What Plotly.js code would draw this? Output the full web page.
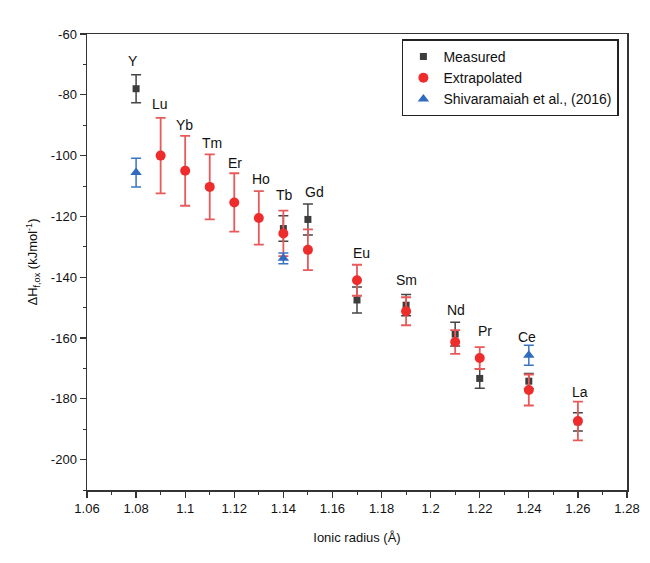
<!DOCTYPE html>
<html>
<head>
<meta charset="utf-8">
<script src="https://cdn.plot.ly/plotly-3.0.1.min.js"></script>
<style>html,body{margin:0;padding:0;background:#fff;}#chart{width:650px;height:563px;}</style>
</head>
<body>
<div id="chart"></div>
<script>
// Measured
var measX = [1.08, 1.14, 1.15, 1.17, 1.19, 1.21, 1.22, 1.24, 1.26];
var measY = [-78, -124, -121, -147.5, -149.2, -158.7, -173.3, -174.2, -187.6];
var measErr = [4.6, 4.2, 5.1, 4.3, 3.5, 3.9, 3.2, 2.5, 3.0];
// Extrapolated
var extX = [1.09, 1.10, 1.11, 1.12, 1.13, 1.14, 1.15, 1.17, 1.19, 1.21, 1.22, 1.24, 1.26];
var extY = [-100, -105, -110.3, -115.4, -120.5, -125.6, -131, -141, -151.2, -161.3, -166.6, -177.1, -187.3];
var extErr = [12.4, 11.5, 10.7, 9.6, 8.8, 7.5, 6.7, 5.1, 4.6, 3.9, 3.6, 5.1, 6.4];
// Shivaramaiah et al., (2016)
var shiX = [1.08, 1.14, 1.24];
var shiY = [-105.6, -133.8, -165.7];
var shiErr = [4.7, 1.8, 3.3];
// Element labels
var labText = ["Y", "Lu", "Yb", "Tm", "Er", "Ho", "Tb", "Gd", "Eu", "Sm", "Nd", "Pr", "Ce", "La"];
var labX = [1.0787, 1.0897, 1.0999, 1.111, 1.1203, 1.1309, 1.1403, 1.1525, 1.172, 1.19, 1.2103, 1.222, 1.2393, 1.2609];
var labY = [-69, -83, -90, -95.8, -102.4, -107.8, -113, -112.1, -132.2, -140.8, -150.7, -157.8, -159.7, -177.8];
// Axis ticks
var xTicks = [1.06, 1.08, 1.10, 1.12, 1.14, 1.16, 1.18, 1.20, 1.22, 1.24, 1.26, 1.28];
var xTickText = ["1.06", "1.08", "1.1", "1.12", "1.14", "1.16", "1.18", "1.2", "1.22", "1.24", "1.26", "1.28"];
var yTicks = [-200, -180, -160, -140, -120, -100, -80, -60];
var yTickText = ["-200", "-180", "-160", "-140", "-120", "-100", "-80", "-60"];

var font = "Liberation Sans, Arial, sans-serif";

var traces = [
  {
    x: measX, y: measY, name: "Measured", type: "scatter", mode: "markers",
    marker: {symbol: "square", size: 7, color: "#3d3d3d"},
    error_y: {type: "data", array: measErr, visible: true, color: "#454545", thickness: 1.5, width: 5}
  },
  {
    x: extX, y: extY, name: "Extrapolated", type: "scatter", mode: "markers",
    marker: {symbol: "circle", size: 10, color: "#ee2c2c"},
    error_y: {type: "data", array: extErr, visible: true, color: "#e85a5a", thickness: 1.8, width: 5}
  },
  {
    x: shiX, y: shiY, name: "Shivaramaiah et al., (2016)", type: "scatter", mode: "markers",
    marker: {symbol: "triangle-up", size: 10, color: "#2f6cc0"},
    error_y: {type: "data", array: shiErr, visible: true, color: "#3a74c4", thickness: 1.5, width: 5}
  }
];

var annotations = labText.map(function (t, i) {
  return {x: labX[i], y: labY[i], xref: "x", yref: "y", text: t, showarrow: false,
    font: {family: font, size: 14, color: "#111"}};
});

var layout = {
  width: 650, height: 563,
  margin: {l: 87, r: 23, t: 34, b: 73},
  paper_bgcolor: "#fff", plot_bgcolor: "#fff",
  font: {family: font, size: 13, color: "#111"},
  showlegend: true,
  legend: {x: 0.985, y: 0.988, xanchor: "right", yanchor: "top",
    bgcolor: "#fff", bordercolor: "#222", borderwidth: 1.5,
    font: {family: font, size: 14, color: "#111"}, tracegroupgap: 0, itemwidth: 30},
  xaxis: {
    range: [1.06, 1.28], tickmode: "array", tickvals: xTicks, ticktext: xTickText,
    ticks: "outside", ticklen: 6, tickwidth: 1.2, tickcolor: "#333",
    minor: {dtick: 0.01, tick0: 1.06, ticks: "outside", ticklen: 3, tickwidth: 1, tickcolor: "#333"},
    showgrid: false, zeroline: false, showline: true, linecolor: "#333", linewidth: 1.5, mirror: true,
    tickfont: {family: font, size: 13, color: "#111"},
    title: {text: "Ionic radius (Å)", font: {family: font, size: 13, color: "#111"}, standoff: 18}
  },
  yaxis: {
    range: [-210, -60], tickmode: "array", tickvals: yTicks, ticktext: yTickText,
    ticks: "outside", ticklen: 6, tickwidth: 1.2, tickcolor: "#333",
    minor: {dtick: 10, tick0: -60, ticks: "outside", ticklen: 3, tickwidth: 1, tickcolor: "#333"},
    showgrid: false, zeroline: false, showline: true, linecolor: "#333", linewidth: 1.5, mirror: true,
    tickfont: {family: font, size: 13, color: "#111"},
    title: {text: "ΔH<sub>f,ox</sub> (kJmol<sup>-1</sup>)", font: {family: font, size: 13, color: "#111"}, standoff: 10}
  },
  annotations: annotations
};

Plotly.newPlot("chart", traces, layout, {displayModeBar: false, staticPlot: true});
</script>
</body>
</html>
